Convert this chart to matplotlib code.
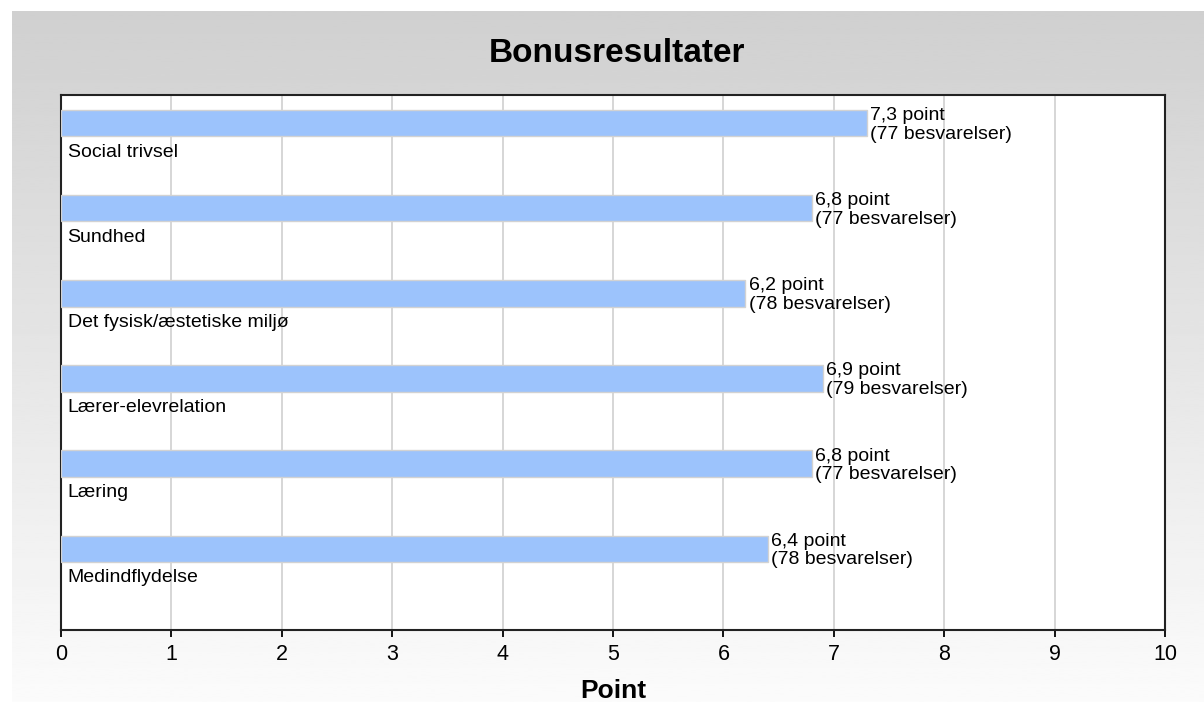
import numpy as np
import matplotlib.pyplot as plt

plt.rcParams['font.family'] = ['Liberation Sans', 'DejaVu Sans']

categories = ['Social trivsel', 'Sundhed', 'Det fysisk/æstetiske miljø',
              'Lærer-elevrelation', 'Læring', 'Medindflydelse']
points = [7.3, 6.8, 6.2, 6.9, 6.8, 6.4]
answers = [77, 77, 78, 79, 77, 78]

W, H = 1204, 702
fig = plt.figure(figsize=(W / 100, H / 100), dpi=100)

# gradient background with white strip at top and left
bg = fig.add_axes([0, 0, 1, 1])
bg.set_axis_off()
grad = np.linspace(0.815, 0.985, 256).reshape(-1, 1)
bg.imshow(grad, cmap='gray', vmin=0, vmax=1, aspect='auto',
          extent=[12 / W, 1, 0, 1 - 11 / H], origin='upper')
bg.set_xlim(0, 1)
bg.set_ylim(0, 1)

ax = fig.add_axes([61 / W, 1 - 630 / H, (1165 - 61) / W, (630 - 95) / H])
ax.set_facecolor('white')

y = np.arange(len(categories))
ax.barh(y, points, height=0.31, color='#9cc3fc', edgecolor='#d2d2d2',
        linewidth=1, zorder=3)

for i, (cat, p, n) in enumerate(zip(categories, points, answers)):
    ax.text(0.06, i + 0.34, cat, fontsize=14, va='center', ha='left', zorder=4)
    ax.text(p + 0.03, i + 0.02, f'{p:.1f}'.replace('.', ',') + ' point\n' + f'({n} besvarelser)',
            fontsize=14, va='center', ha='left', linespacing=1.12, zorder=4)

ax.set_xlim(0, 10)
ax.set_ylim(len(categories) - 1 + 0.955, -0.33)
ax.set_xticks(range(11))
ax.set_yticks([])
ax.grid(axis='x', color='#d3d3d3', linewidth=1.3, zorder=0)
ax.tick_params(axis='x', direction='out', length=5, width=1.3, labelsize=15.5, pad=5)
for s in ax.spines.values():
    s.set_linewidth(1.5)
    s.set_color('#222222')

ax.set_xlabel('Point', fontsize=19, fontweight='bold', labelpad=10)
fig.text(617 / W, 1 - 54 / H, 'Bonusresultater', fontsize=24, fontweight='bold',
         ha='center', va='center')

fig.savefig('out.png', dpi=100)
